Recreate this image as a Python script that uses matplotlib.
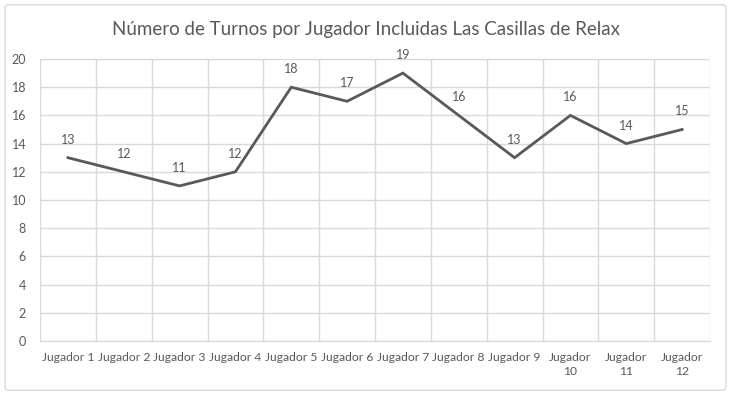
import matplotlib
matplotlib.use("Agg")
import matplotlib.pyplot as plt
from matplotlib.patches import FancyBboxPatch
import numpy as np

categories = ["Jugador 1", "Jugador 2", "Jugador 3", "Jugador 4", "Jugador 5", "Jugador 6",
              "Jugador 7", "Jugador 8", "Jugador 9", "Jugador\n10", "Jugador\n11", "Jugador\n12"]
turnos = [13, 12, 11, 12, 18, 17, 19, 16, 13, 16, 14, 15]
yticks = [0, 2, 4, 6, 8, 10, 12, 14, 16, 18, 20]
title = "Número de Turnos por Jugador Incluidas Las Casillas de Relax"

plt.rcParams['font.family'] = ['Lato', 'DejaVu Sans']
TXT = "#595959"
GRID = "#d9d9d9"

fig = plt.figure(figsize=(7.31, 3.95), dpi=100)
fig.patches.append(FancyBboxPatch((0.007, 0.012), 0.986, 0.976, boxstyle="round,pad=0,rounding_size=0.006",
                                  transform=fig.transFigure, facecolor="none", edgecolor=GRID, lw=1,
                                  zorder=-1))
ax = fig.add_axes([40/731, 1-341/395, 670/731, 282/395])
ax.set_facecolor("none")
x = np.arange(1, len(turnos)+1)
ax.plot(x, turnos, color=TXT, lw=2, solid_joinstyle="miter", zorder=3)
for xi, v in zip(x, turnos):
    ax.annotate(str(v), (xi, v), xytext=(0, 13), textcoords="offset points",
                ha="center", va="center", fontsize=9, color=TXT)

ax.set_xlim(0.5, len(turnos)+0.5)
ax.set_ylim(0, 20)
ax.set_yticks(yticks)
ax.set_xticks(x)
ax.set_xticklabels(categories, fontsize=8.7, color=TXT, linespacing=1.3, va="top")
ax.tick_params(axis="y", length=0, pad=10, labelsize=9, labelcolor=TXT)
ax.tick_params(axis="x", length=0, pad=8)
ax.set_xticks(np.arange(0.5, len(turnos)+1, 1), minor=True)
ax.tick_params(axis="x", which="minor", length=0)
ax.grid(axis="y", which="major", color=GRID, lw=1)
ax.grid(axis="x", which="minor", color=GRID, lw=1)
ax.grid(axis="x", which="major", visible=False)
for s in ["top", "right", "left"]:
    ax.spines[s].set_visible(False)
ax.spines["bottom"].set_color(GRID)

fig.text(366/731, 1-30/395, title, ha="center", va="center", fontsize=13.5, color=TXT)
fig.savefig("out.png", dpi=100)
